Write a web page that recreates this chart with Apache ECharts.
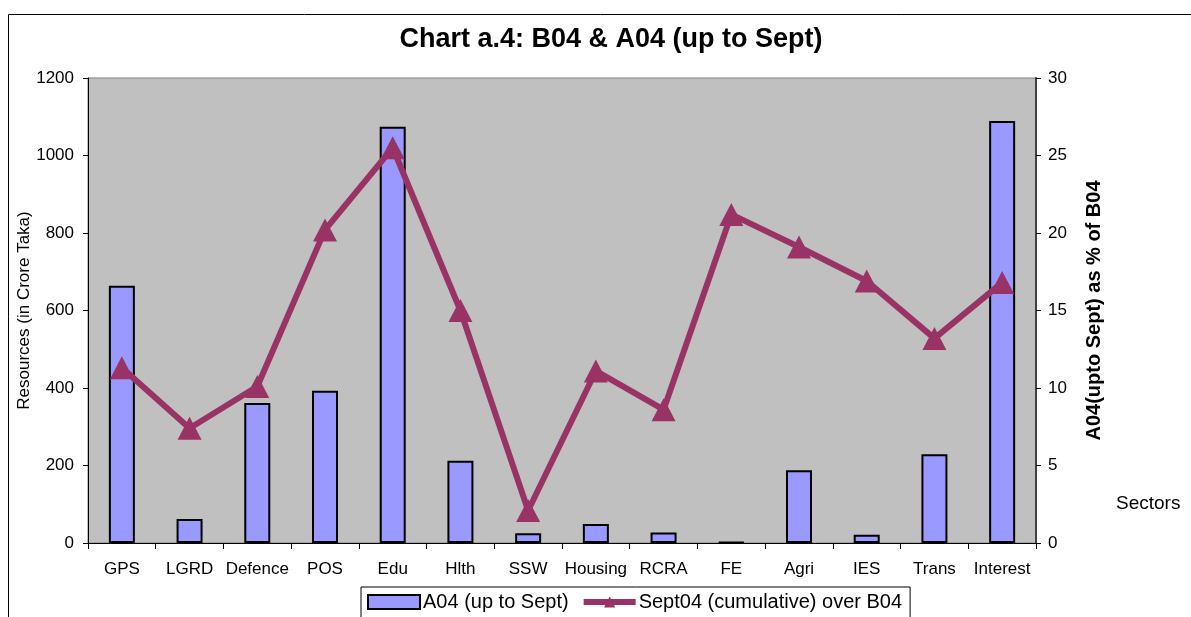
<!DOCTYPE html>
<html>
<head>
<meta charset="utf-8">
<script src="https://cdn.jsdelivr.net/npm/echarts@6/dist/echarts.min.js"></script>
<style>
html,body{margin:0;padding:0;background:#fff;}
#c{width:1191px;height:617px;}
</style>
</head>
<body>
<div id="c"></div>
<script>
const categories = ['GPS','LGRD','Defence','POS','Edu','Hlth','SSW','Housing','RCRA','FE','Agri','IES','Trans','Interest'];
const a04Values = [664, 62, 361, 393, 1074, 212, 25, 49, 27, 2, 188, 21, 229, 1089];
const pctValues = [11.3, 7.4, 10.1, 20.2, 25.5, 15.0, 2.1, 11.1, 8.6, 21.2, 19.1, 16.9, 13.2, 16.8];
const leftTicks = [0, 200, 400, 600, 800, 1000, 1200];
const rightTicks = [0, 5, 10, 15, 20, 25, 30];

const FONT = '"Liberation Sans", Arial, sans-serif';
const chart = echarts.init(document.getElementById('c'), null, {renderer:'canvas'});
chart.setOption({
  animation: false,
  backgroundColor: '#ffffff',
  textStyle: {fontFamily: FONT},
  title: {
    text: 'Chart a.4: B04 & A04 (up to Sept)',
    left: 606, textAlign: 'center', top: 21,
    textStyle: {fontFamily: FONT, fontSize: 27, fontWeight: 'bold', color: '#000'}
  },
  graphic: [
    {type:'rect', shape:{x:8.5, y:14.5, width:1300, height:800}, style:{fill:'none', stroke:'#000', lineWidth:1}, z:-1},
    {type:'text', left:1116, top:494, style:{text:'Sectors', font:'19px ' + FONT, fill:'#000'}}
  ],
  legend: {
    left: 361, top: 587,
    orient: 'horizontal',
    itemWidth: 52, itemHeight: 14, itemGap: 12,
    padding: [5, 8, 12, 6],
    borderColor: '#000', borderWidth: 1,
    backgroundColor: '#fff',
    textStyle: {fontFamily: FONT, fontSize: 20, color: '#000', padding:[0,0,0,-2]},
    data: [
      {name: 'A04 (up to Sept)', icon: 'rect', itemStyle:{color:'#9999FF', borderColor:'#000', borderWidth:2}},
      {name: 'Sept04 (cumulative) over B04', lineStyle:{color:'#993366', width:6}, itemStyle:{color:'#993366'}}
    ]
  },
  grid: {
    left: 88, right: 155, top: 78, bottom: 74,
    show: true, backgroundColor: '#C0C0C0', borderColor: '#808080', borderWidth: 1
  },
  xAxis: {
    type: 'category',
    data: categories,
    boundaryGap: true,
    axisLine: {show: true, lineStyle: {color: '#000', width: 1}},
    axisTick: {show: true, alignWithLabel: false, length: 6, lineStyle: {color: '#000'}},
    axisLabel: {interval: 0, margin: 18, fontFamily: FONT, fontSize: 17, color: '#000'},
    splitLine: {show: false}
  },
  yAxis: [
    {
      type: 'value', min: leftTicks[0], max: leftTicks[leftTicks.length-1], interval: leftTicks[1]-leftTicks[0],
      position: 'left',
      name: 'Resources (in Crore Taka)', nameLocation: 'middle', nameGap: 55, nameRotate: 90,
      nameMoveOverlap: false,
      nameTextStyle: {fontFamily: FONT, fontSize: 17, color: '#000'},
      axisLine: {show: true, lineStyle: {color: '#000', width: 1}},
      axisTick: {show: true, length: 5, lineStyle: {color: '#000'}},
      axisLabel: {margin: 14, fontFamily: FONT, fontSize: 17, color: '#000', formatter: function(v){return String(v);}},
      splitLine: {show: false}
    },
    {
      type: 'value', min: rightTicks[0], max: rightTicks[rightTicks.length-1], interval: rightTicks[1]-rightTicks[0],
      position: 'right',
      name: 'A04(upto Sept) as % of B04', nameLocation: 'middle', nameGap: 48, nameRotate: 90,
      nameTextStyle: {fontFamily: FONT, fontSize: 20, fontWeight: 'bold', color: '#000'},
      axisLine: {show: true, lineStyle: {color: '#404040', width: 2}},
      axisTick: {show: true, length: 5, lineStyle: {color: '#000'}},
      axisLabel: {margin: 12, fontFamily: FONT, fontSize: 17, color: '#000'},
      splitLine: {show: false}
    }
  ],
  series: [
    {
      name: 'A04 (up to Sept)',
      type: 'bar',
      data: a04Values,
      barWidth: 26,
      itemStyle: {color: '#9999FF', borderColor: '#000', borderWidth: 2},
      z: 2
    },
    {
      name: 'Sept04 (cumulative) over B04',
      type: 'line',
      yAxisIndex: 1,
      data: pctValues,
      symbol: 'triangle',
      symbolSize: [24, 23],
      lineStyle: {color: '#993366', width: 6},
      itemStyle: {color: '#993366'},
      z: 5
    }
  ]
});
</script>
</body>
</html>
